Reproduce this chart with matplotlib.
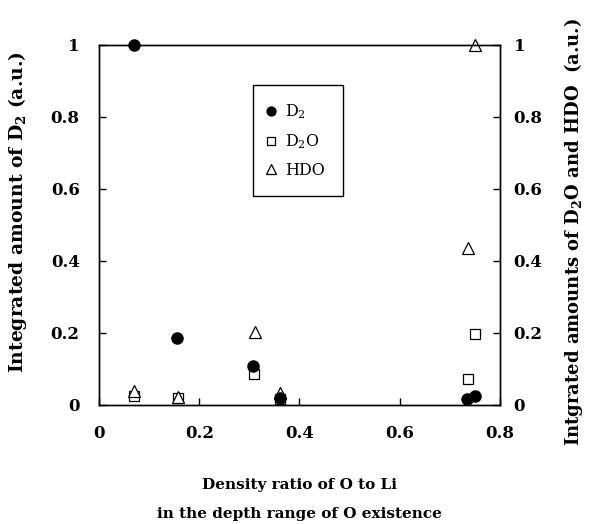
import matplotlib.pyplot as plt

plt.rcParams["font.family"] = "DejaVu Serif"
plt.rcParams["mathtext.fontset"] = "dejavuserif"

# values
d2_x = [0.069, 0.156, 0.307, 0.362, 0.735, 0.751]
d2_y = [1.0, 0.186, 0.106, 0.019, 0.014, 0.023]

d2o_x = [0.069, 0.158, 0.309, 0.362, 0.736, 0.750]
d2o_y = [0.024, 0.017, 0.084, 0.015, 0.072, 0.197]

hdo_x = [0.069, 0.158, 0.311, 0.362, 0.737, 0.751]
hdo_y = [0.037, 0.021, 0.202, 0.032, 0.435, 1.0]

xticks = [0, 0.2, 0.4, 0.6, 0.8]
yticks = [0, 0.2, 0.4, 0.6, 0.8, 1]
ylabels = ["0", "0.2", "0.4", "0.6", "0.8", "1"]

fig = plt.figure(figsize=(5.9, 5.24), dpi=100)
ax = fig.add_axes([0.168, 0.228, 0.679, 0.687])
ax2 = ax.twinx()

h1, = ax.plot(d2_x, d2_y, "o", color="black", ms=8, label=r"D$_2$", clip_on=False, zorder=5)
h2, = ax2.plot(d2o_x, d2o_y, "s", mfc="white", mec="black", mew=0.9, ms=7.5,
               label=r"D$_2$O", clip_on=False)
h3, = ax2.plot(hdo_x, hdo_y, "^", mfc="white", mec="black", mew=0.9, ms=8.5,
               label="HDO", clip_on=False)
ax.set_zorder(ax2.get_zorder() + 1)
ax.patch.set_visible(False)

for a in (ax, ax2):
    a.set_xlim(0, 0.8)
    a.set_ylim(0, 1)
    a.set_yticks(yticks)
    a.set_yticklabels(ylabels, fontweight="bold", fontsize=12)
    a.tick_params(direction="in", length=5, width=1)
    for s in a.spines.values():
        s.set_linewidth(1)

ax.set_xticks(xticks)
ax.set_xticklabels(["0", "0.2", "0.4", "0.6", "0.8"], fontweight="bold", fontsize=12)
ax.tick_params(axis="x", pad=15)
ax.tick_params(axis="y", pad=14)
ax2.tick_params(axis="y", pad=10)

ax.set_ylabel(r"Integrated amount of D$_\mathbf{2}$ (a.u.)", fontweight="bold", fontsize=13.5)
ax.yaxis.set_label_coords(-0.175, 0.535)
ax2.set_ylabel(r"Intgrated amounts of D$_\mathbf{2}$O and HDO  (a.u.)", fontweight="bold",
               fontsize=13, rotation=90)
ax2.yaxis.set_label_coords(1.155, 0.48)
ax.set_xlabel("Density ratio of O to Li\nin the depth range of O existence",
              fontweight="bold", fontsize=11, linespacing=2.3)
ax.xaxis.set_label_coords(0.5, -0.205)

leg = ax.legend(handles=[h1, h2, h3], loc="upper left", bbox_to_anchor=(0.383, 0.887),
                borderaxespad=0, fontsize=11.5, markerscale=0.8, handlelength=0.1,
                handletextpad=0.85, labelspacing=0.68, borderpad=1.1, fancybox=False,
                framealpha=1, edgecolor="black")
leg.get_frame().set_linewidth(1)

fig.savefig("out.png", dpi=100)
